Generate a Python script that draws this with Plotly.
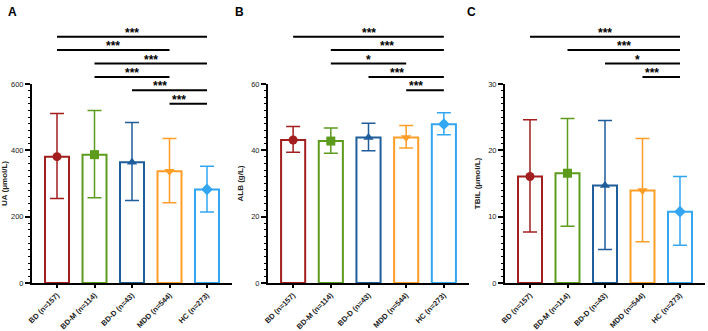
import plotly.graph_objects as go

groups = ["BD (n=157)", "BD-M (n=114)", "BD-D (n=43)", "MDD (n=544)", "HC (n=273)"]
colors = ["#A31F1F", "#5C9B1C", "#1F5D9B", "#FF9D27", "#33A6F2"]
symbols = ["circle", "square", "triangle-up", "triangle-down", "diamond"]

ua_mean = [381, 387, 364, 337, 282]
ua_upper = [511, 520, 484, 436, 352]
ua_lower = [255, 257, 249, 242, 214]

alb_mean = [43.1, 42.8, 43.9, 43.9, 47.9]
alb_upper = [47.2, 46.7, 48.2, 47.5, 51.3]
alb_lower = [39.4, 39.1, 39.9, 40.7, 44.7]

tbil_mean = [16.05, 16.55, 14.7, 13.95, 10.75]
tbil_upper = [24.6, 24.8, 24.5, 21.8, 16.05]
tbil_lower = [7.7, 8.55, 5.05, 6.2, 5.7]

ua_sig = [(0, 4, "***"), (0, 3, "***"), (1, 4, "***"), (1, 3, "***"), (2, 4, "***"), (3, 4, "***")]
alb_sig = [(0, 4, "***"), (1, 4, "***"), (1, 3, "*"), (2, 4, "***"), (3, 4, "***")]
tbil_sig = [(0, 4, "***"), (1, 4, "***"), (2, 4, "*"), (3, 4, "***")]

panels = [
    dict(letter="A", title="UA (μmol/L)", mean=ua_mean, up=ua_upper, lo=ua_lower, sig=ua_sig,
         ymax=600, dtick=200, minor=20, dom=(32, 232), letter_x=12),
    dict(letter="B", title="ALB (g/L)", mean=alb_mean, up=alb_upper, lo=alb_lower, sig=alb_sig,
         ymax=60, dtick=20, minor=2, dom=(268, 469), letter_x=239),
    dict(letter="C", title="TBIL (μmol/L)", mean=tbil_mean, up=tbil_upper, lo=tbil_lower, sig=tbil_sig,
         ymax=30, dtick=10, minor=1, dom=(505, 705), letter_x=471),
]

W, H = 708, 331
Y_TOP, Y_BOT = 84, 283
XMIN, XMAX = -0.667, 4.667
FONT = "Arial, Liberation Sans, sans-serif"

fig = go.Figure()
shapes = []
annotations = []
xs = list(range(len(groups)))

for i, p in enumerate(panels):
    n = "" if i == 0 else str(i + 1)
    xa, ya = "x" + n, "y" + n
    fig.add_trace(go.Bar(
        x=xs, y=p["mean"], width=0.64, xaxis=xa, yaxis=ya,
        marker=dict(color="white", line=dict(color=colors, width=2)),
        showlegend=False, hoverinfo="skip"))
    for j in xs:
        fig.add_trace(go.Scatter(
            x=[j], y=[p["mean"][j]], xaxis=xa, yaxis=ya, mode="markers",
            marker=dict(symbol=symbols[j], size=9, color=colors[j]),
            error_y=dict(type="data", symmetric=False,
                         array=[p["up"][j] - p["mean"][j]],
                         arrayminus=[p["mean"][j] - p["lo"][j]],
                         color=colors[j], thickness=1.5, width=7),
            showlegend=False))
    d0, d1 = p["dom"]
    fig.update_layout({
        ("xaxis" + n): dict(
            domain=[d0 / W, d1 / W], range=[XMIN, XMAX], tickmode="array",
            tickvals=xs, ticktext=["<b>" + g + "</b>" for g in groups], tickangle=-45,
            showline=True, linecolor="black", linewidth=2, ticks="outside",
            ticklen=3, tickwidth=1.5, tickcolor="black", showgrid=False, zeroline=False,
            automargin=False,
            tickfont=dict(family=FONT, size=7.5, color="#222"), anchor=ya),
        ("yaxis" + n): dict(
            domain=[(H - Y_BOT) / H, (H - Y_TOP) / H], range=[0, p["ymax"]],
            dtick=p["dtick"], showline=True, linecolor="black", linewidth=2,
            ticks="outside", ticklen=5, tickwidth=1.5, tickcolor="black",
            minor=dict(dtick=p["minor"], ticks="outside", ticklen=2.5, tickwidth=1, tickcolor="black", showgrid=False),
            showgrid=False, zeroline=False, anchor=xa, automargin=False,
            tickfont=dict(family=FONT, size=7.5, color="#222"),
            title=dict(text="<b>" + p["title"] + "</b>", font=dict(family=FONT, size=8, color="#222"), standoff=6)),
    })
    # significance brackets
    for k, (a, b, txt) in enumerate(p["sig"]):
        ypx = 36.7 + 13.4 * k
        yd = (Y_BOT - ypx) / (Y_BOT - Y_TOP)
        xa_d = (a - XMIN) / (XMAX - XMIN)
        xb_d = (b - XMIN) / (XMAX - XMIN)
        shapes.append(dict(type="line", xref=xa + " domain", yref=ya + " domain",
                           x0=xa_d, x1=xb_d, y0=yd, y1=yd, line=dict(color="black", width=2)))
        annotations.append(dict(xref=xa + " domain", yref=ya + " domain", x=(xa_d + xb_d) / 2, y=yd,
                                text="<b>" + txt + "</b>", showarrow=False, yanchor="bottom",
                                yshift=-5, font=dict(family=FONT, size=12, color="black")))
    annotations.append(dict(xref="paper", yref="paper", x=p["letter_x"] / W, y=(H - 12) / H,
                            text="<b>" + p["letter"] + "</b>", showarrow=False,
                            xanchor="center", yanchor="middle",
                            font=dict(family=FONT, size=12, color="black")))

fig.update_layout(width=W, height=H, margin=dict(l=0, r=0, t=0, b=0),
                  plot_bgcolor="white", paper_bgcolor="white",
                  shapes=shapes, annotations=annotations, bargap=0.2)
fig.write_html("out.html", config={"displayModeBar": False},
               post_script="document.body.style.margin='0';document.body.style.overflow='hidden';")
